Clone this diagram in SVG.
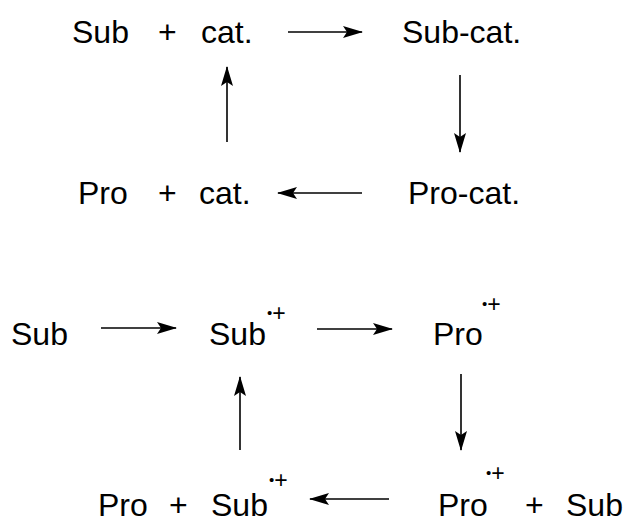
<svg xmlns="http://www.w3.org/2000/svg" width="627" height="523" viewBox="0 0 627 523">
<style>
text{font-family:"Liberation Sans",Arial,sans-serif;font-size:32px;fill:#000}
.dot{font-size:15px}
.pl{font-size:23px}
.arr{stroke:#000;stroke-width:1.6;fill:none;marker-end:url(#ah)}
</style>
<defs>
<marker id="ah" viewBox="0 0 20 12" refX="19" refY="6" markerWidth="20" markerHeight="12" markerUnits="userSpaceOnUse" orient="auto">
<path d="M0,0 L20,6 L0,12 L4,6 z" fill="#000"/>
</marker>
</defs>
<rect width="627" height="523" fill="#fff"/>
<g id="connectors">
<line class="arr" x1="288" y1="32" x2="362" y2="32"/>
<line class="arr" x1="460" y1="75" x2="460" y2="152"/>
<line class="arr" x1="227" y1="142" x2="227" y2="67"/>
<line class="arr" x1="362" y1="193" x2="278" y2="193"/>
<line class="arr" x1="101" y1="328" x2="176" y2="328"/>
<line class="arr" x1="317" y1="329" x2="392" y2="329"/>
<line class="arr" x1="461" y1="374" x2="461" y2="450"/>
<line class="arr" x1="240" y1="450" x2="240" y2="377"/>
<line class="arr" x1="389" y1="499" x2="310" y2="499"/>
</g>
<g id="n-sub-cat-top"><text x="72" y="43">Sub</text><text x="158" y="43">+</text><text x="201" y="43">cat.</text></g>
<g id="n-subcat"><text x="402" y="43">Sub-cat.</text></g>
<g id="n-pro-cat"><text x="78" y="204">Pro</text><text x="158" y="204">+</text><text x="199" y="204">cat.</text></g>
<g id="n-procat"><text x="408" y="204">Pro-cat.</text></g>
<g id="n-sub"><text x="11" y="345">Sub</text></g>
<g id="n-subrad"><text x="209" y="345">Sub</text><text x="267" y="321"><tspan class="dot" dy="-3">•</tspan><tspan class="pl" dy="3">+</tspan></text></g>
<g id="n-prorad"><text x="433" y="345">Pro</text><text x="482" y="312"><tspan class="dot" dy="-3">•</tspan><tspan class="pl" dy="3">+</tspan></text></g>
<g id="n-pro-subrad"><text x="98" y="516">Pro</text><text x="169" y="516">+</text><text x="211" y="516">Sub</text><text x="269" y="488"><tspan class="dot" dy="-3">•</tspan><tspan class="pl" dy="3">+</tspan></text></g>
<g id="n-prorad-sub"><text x="438" y="516">Pro</text><text x="486" y="481"><tspan class="dot" dy="-3">•</tspan><tspan class="pl" dy="3">+</tspan></text><text x="525" y="516">+</text><text x="566" y="516">Sub</text></g>
</svg>
